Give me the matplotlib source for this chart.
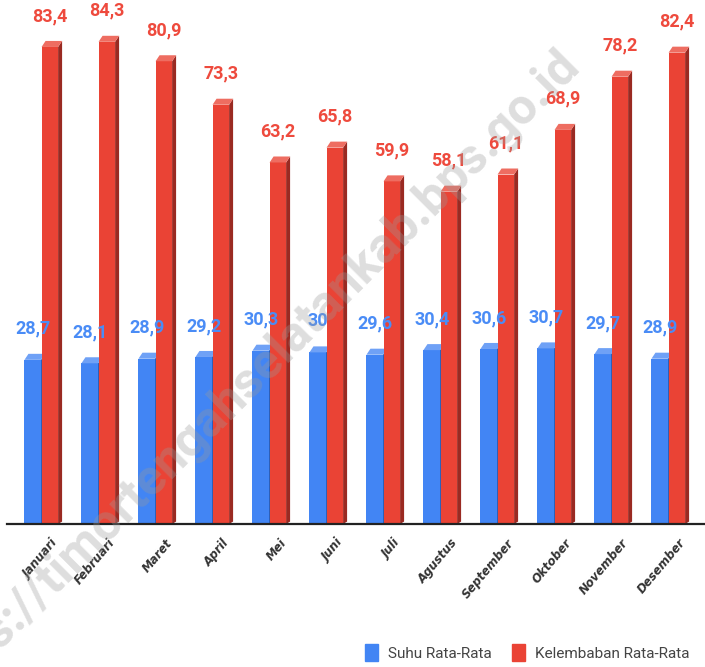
import matplotlib
matplotlib.use('Agg')
import matplotlib.pyplot as plt
import matplotlib.transforms as mtransforms
from matplotlib.patches import Polygon, Patch

bulan = ['Januari', 'Februari', 'Maret', 'April', 'Mei', 'Juni', 'Juli',
         'Agustus', 'September', 'Oktober', 'November', 'Desember']
suhu = [28.7, 28.1, 28.9, 29.2, 30.3, 30.0, 29.6, 30.4, 30.6, 30.7, 29.7, 28.9]
kelembaban = [83.4, 84.3, 80.9, 73.3, 63.2, 65.8, 59.9, 58.1, 61.1, 68.9, 78.2, 82.4]
seri = ['Suhu Rata-Rata', 'Kelembaban Rata-Rata']
watermark = 'https://timortengahselatankab.bps.go.id'

huruf = ['Roboto', 'DejaVu Sans']

# warna: depan, atas, samping
biru = ('#4285F4', '#6FA1F6', '#2D5FB8')
merah = ('#EA4335', '#EE6D61', '#9A2A22')
label_biru = '#4A8CF6'
label_merah = '#EE4A3D'

W = 0.29      # lebar bar
DX = 0.07     # kedalaman 3D (x)
DY = 1.05     # kedalaman 3D (y)


def fmt(v):
    s = f'{v:.1f}'
    if s.endswith('.0'):
        s = s[:-2]
    return s.replace('.', ',')


def bar3d(ax, x0, h, warna):
    depan, atas, samping = warna
    x1 = x0 + W
    ax.bar(x0, h, width=W, align='edge', color=depan, zorder=2)
    ax.add_patch(Polygon([(x1, 0), (x1 + DX, DY * 0.4), (x1 + DX, h + DY), (x1, h)],
                         closed=True, color=samping, lw=0, zorder=2))
    ax.add_patch(Polygon([(x0, h), (x0 + DX, h + DY), (x1 + DX, h + DY), (x1, h)],
                         closed=True, color=atas, lw=0, zorder=2))


fig = plt.figure(figsize=(7.05, 6.67), dpi=100)
ax = fig.add_axes([0, 1 - 524 / 667, 1, 524 / 667])

for i in range(len(bulan)):
    bar3d(ax, i - W, suhu[i], biru)
    bar3d(ax, i + 0.01, kelembaban[i], merah)
    ax.annotate(fmt(suhu[i]), (i - W / 2, suhu[i]), xytext=(0, 31),
                textcoords='offset pixels', ha='center', va='center',
                fontsize=13, fontweight='bold', family=huruf,
                color=label_biru, zorder=5)
    ax.annotate(fmt(kelembaban[i]), (i + 0.01 + W / 2, kelembaban[i]), xytext=(0, 31),
                textcoords='offset pixels', ha='center', va='center',
                fontsize=13, fontweight='bold', family=huruf,
                color=label_merah, zorder=5)

ax.plot([-0.6, 11.7], [0, 0], color='#222222', lw=1.6, zorder=3, clip_on=False)

ax.set_xlim(-41 / 57, (705 - 41) / 57)
ax.set_ylim(0, 524 / 5.72)
for s in ax.spines.values():
    s.set_visible(False)
ax.set_yticks([])
ax.set_xticks(range(len(bulan)))
ax.tick_params(axis='x', direction='in', length=9, width=1.5, color='#3A6B27', pad=9)
ax.set_xticklabels(bulan, rotation=50, ha='right', va='top', rotation_mode='anchor',
                   fontsize=8.5, fontweight='bold', fontstyle='italic', color='#333333')
geser = mtransforms.ScaledTranslation(10 / 100, 0, fig.dpi_scale_trans)
for lbl in ax.get_xticklabels():
    lbl.set_transform(lbl.get_transform() + geser)

handles = [Patch(facecolor=biru[0], edgecolor=biru[0]),
           Patch(facecolor=merah[0], edgecolor=merah[0])]
fig.legend(handles, seri, loc='lower right', bbox_to_anchor=(0.992, -0.006),
           ncol=2, frameon=False, prop={'family': huruf, 'size': 11},
           labelcolor='#444444', handlelength=0.85, handleheight=1.3,
           handletextpad=0.65, columnspacing=1.3, borderpad=0.15)

fig.text(249 / 705, 1 - 381 / 667, watermark, rotation=45, ha='center', va='center',
         fontsize=36, fontweight='bold', family='Roboto', color='#9a9a9a',
         alpha=0.33, zorder=10)

fig.savefig('out.png', dpi=100)
